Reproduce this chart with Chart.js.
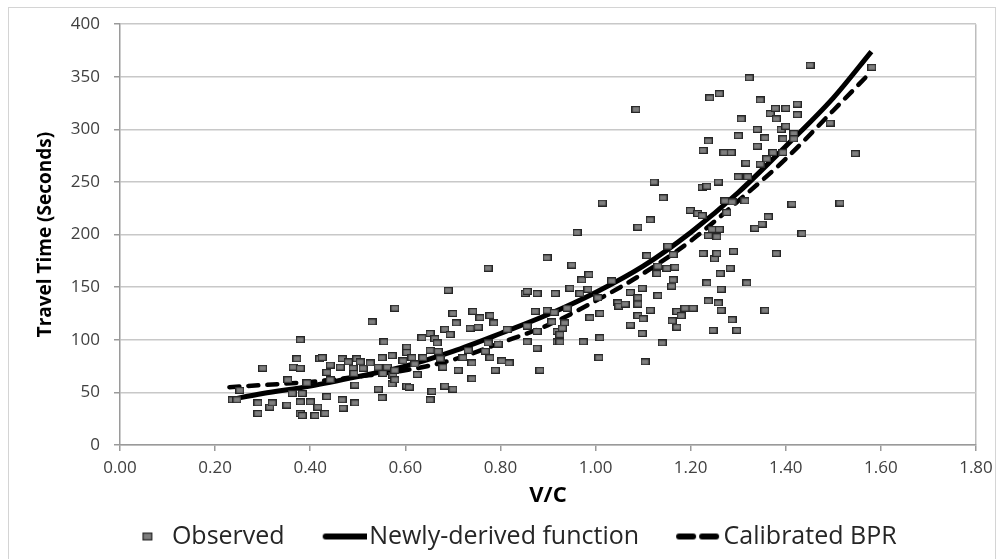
<!DOCTYPE html>
<html>
<head>
<meta charset="utf-8">
<script src="https://cdn.jsdelivr.net/npm/chart.js@4.4.1/dist/chart.umd.min.js"></script>
<style>
  html, body { margin: 0; padding: 0; background: #fff; }
  #wrap { position: relative; width: 1000px; height: 559px; }
  #frame { position: absolute; left: 8px; top: 7px; width: 986px; height: 560px; border: 1px solid #d4d4d4; pointer-events: none; }
</style>
</head>
<body>
<div id="wrap">
  <canvas id="travelChart" width="1000" height="559"></canvas>
  <div id="frame"></div>
</div>
<script>
// observed V/C vs travel time (seconds)
const observedLow = [
  [0.236,43],[0.246,43],[0.252,52],[0.29,40],[0.29,30],[0.30,73],[0.315,36],[0.32,40],
  [0.351,38],[0.353,62],[0.362,49],[0.364,74],[0.372,82],[0.379,73],[0.379,100],[0.379,41],
  [0.379,30],[0.383,49],[0.383,28],[0.393,59],[0.40,41],[0.41,28],[0.416,36],[0.42,82],
  [0.425,83],[0.431,30],[0.435,69],[0.435,46],[0.442,76],[0.442,62],[0.463,74],[0.467,82],
  [0.467,43],[0.469,35],[0.48,79],[0.49,73],[0.492,68],[0.494,57],[0.494,40],[0.498,82],
  [0.505,79],[0.511,73],[0.526,78],[0.53,117],[0.543,74],[0.543,53],[0.551,83],[0.551,45],
  [0.553,68],[0.555,98],[0.562,74],[0.572,85],[0.572,58],[0.574,66],[0.578,130],[0.578,71],
  [0.578,62]
];
const observedMid = [
  [0.595,80],[0.603,93],[0.603,88],[0.603,56],[0.608,55],[0.614,83],[0.62,77],[0.625,67],
  [0.635,102],[0.637,83],[0.652,106],[0.652,90],[0.652,43],[0.656,51],[0.662,101],[0.667,97],
  [0.669,89],[0.673,82],[0.679,74],[0.683,110],[0.683,56],[0.69,147],[0.694,105],[0.70,125],
  [0.70,53],[0.707,116],[0.711,71],[0.721,83],[0.732,90],[0.736,111],[0.74,78],[0.74,63],
  [0.742,127],[0.753,112],[0.757,121],[0.768,89],[0.774,168],[0.774,97],[0.778,123],[0.778,83],
  [0.786,116],[0.789,71],[0.795,96],[0.803,80],[0.814,110],[0.818,78],[0.852,144],[0.856,146],
  [0.856,113],[0.856,98],[0.873,127],[0.877,144],[0.877,108],[0.877,92],[0.883,71],[0.898,178],
  [0.898,128],[0.908,117],[0.913,126],[0.915,144],[0.919,108],[0.919,98]
];
const observedHigh = [
  [0.94,130],[0.935,116],[0.93,111],[0.925,105],[0.925,98],[0.946,149],[0.95,171],[0.961,202],
  [0.967,144],[0.971,157],[0.974,98],[0.984,148],[0.986,162],[0.988,121],[1.005,140],[1.007,83],
  [1.009,125],[1.009,102],[1.014,230],[1.034,156],[1.047,135],[1.049,132],[1.062,134],[1.073,145],
  [1.073,114],[1.085,319],[1.089,207],[1.089,140],[1.089,134],[1.089,123],[1.098,149],[1.098,106],
  [1.10,120],[1.104,79],[1.108,180],[1.115,214],[1.115,128],[1.123,250],[1.129,163],[1.131,170],
  [1.131,142],[1.14,97],[1.142,235],[1.15,168],[1.152,189],[1.16,151],[1.161,118],[1.163,181],
  [1.163,157],[1.167,169],[1.171,127],[1.171,112],[1.18,123],[1.188,130],[1.199,223],[1.205,130],
  [1.215,220]
];
const observedTop = [
  [1.224,245],[1.224,218],[1.226,280],[1.226,182],[1.234,246],[1.234,154],[1.237,289],[1.237,199],
  [1.237,137],[1.24,330],[1.245,205],[1.247,109],[1.25,177],[1.255,198],[1.255,182],[1.258,250],
  [1.258,135],[1.26,334],[1.26,205],[1.262,163],[1.264,148],[1.264,128],[1.27,278],[1.272,232],
  [1.276,221],[1.283,168],[1.285,278],[1.287,231],[1.287,119],[1.29,184],[1.297,109],[1.30,294],
  [1.30,255],[1.306,310],[1.314,232],[1.316,268],[1.318,154],[1.32,255],[1.323,349],[1.335,206],
  [1.34,300],[1.34,284],[1.346,328],[1.346,267],[1.35,210],[1.356,292],[1.356,128],[1.36,272],
  [1.363,217],[1.367,315],[1.373,278],[1.378,320],[1.38,310],[1.38,182],[1.39,300],[1.394,291],
  [1.394,278],[1.40,320],[1.40,303],[1.413,229],[1.417,296],[1.417,291],[1.424,324],[1.424,314],
  [1.434,201],[1.451,361],[1.493,306],[1.514,230],[1.546,277],[1.581,359]
];

// the two fitted curves, sampled off the figure
const curveVC = [0.23, 0.30, 0.40, 0.50, 0.60, 0.70, 0.80, 0.90, 1.00, 1.10, 1.20, 1.30, 1.40, 1.50, 1.58];
const newlyDerived = [43, 49, 56, 65, 75, 89, 106, 124, 145, 170, 202, 240, 284, 330, 374];
const calibratedBPR = [55, 57, 60, 65, 71, 81, 97, 114, 137, 163, 194, 232, 272, 318, 355];

const seriesNames = ['Observed', 'Newly-derived function', 'Calibrated BPR'];
const xTicks = { min: 0, max: 1.8, step: 0.2 };
const yTicks = { min: 0, max: 400, step: 50 };

const observed = [...observedLow, ...observedMid, ...observedHigh, ...observedTop]
  .map(([x, y]) => ({ x, y }));
const toPoints = (xs, ys) => xs.map((x, i) => ({ x, y: ys[i] }));

function makeCanvas(w, h, draw) {
  const c = document.createElement('canvas');
  c.width = w;
  c.height = h;
  draw(c.getContext('2d'));
  return c;
}

const squareMarker = makeCanvas(9, 7, g => {
  g.fillStyle = '#7f7f7f';
  g.fillRect(0, 0, 9, 7);
  g.strokeStyle = '#262626';
  g.lineWidth = 1.2;
  g.strokeRect(0.6, 0.6, 7.8, 5.8);
});

// legend icons: box is 70 wide, icon canvas is 90 wide centred on it,
// so the drawn part sits at the right, next to the text
const legendIcons = [
  makeCanvas(90, 10, g => {
    g.fillStyle = '#7f7f7f';
    g.fillRect(63, 1, 10, 8);
    g.strokeStyle = '#262626';
    g.lineWidth = 1.2;
    g.strokeRect(63.6, 1.6, 8.8, 6.8);
  }),
  makeCanvas(90, 10, g => {
    g.strokeStyle = '#000';
    g.lineWidth = 6;
    g.lineCap = 'round';
    g.beginPath();
    g.moveTo(49, 5);
    g.lineTo(90, 5);
    g.stroke();
  }),
  makeCanvas(90, 10, g => {
    g.strokeStyle = '#000';
    g.lineWidth = 6;
    g.lineCap = 'round';
    g.setLineDash([14, 9]);
    g.beginPath();
    g.moveTo(48, 5);
    g.lineTo(90, 5);
    g.stroke();
  }),
];

const ctx = document.getElementById('travelChart').getContext('2d');

new Chart(ctx, {
  type: 'scatter',
  data: {
    datasets: [
      {
        label: seriesNames[0],
        data: observed,
        pointStyle: squareMarker,
        pointRadius: 5,
        backgroundColor: '#7f7f7f',
        borderColor: '#262626',
      },
      {
        type: 'line',
        label: seriesNames[1],
        data: toPoints(curveVC, newlyDerived),
        borderColor: '#000',
        borderWidth: 5,
        pointRadius: 0,
        cubicInterpolationMode: 'monotone',
        fill: false,
      },
      {
        type: 'line',
        label: seriesNames[2],
        data: toPoints(curveVC, calibratedBPR),
        borderColor: '#000',
        borderWidth: 4.5,
        borderDash: [10, 9],
        borderCapStyle: 'round',
        pointRadius: 0,
        cubicInterpolationMode: 'monotone',
        fill: false,
      },
    ],
  },
  options: {
    responsive: false,
    animation: false,
    layout: { padding: { left: 10, right: 24, top: 23, bottom: 0 } },
    scales: {
      x: {
        type: 'linear',
        min: xTicks.min,
        max: xTicks.max,
        afterFit: s => { s.height = 77; },
        border: { color: '#9a9a9a', width: 1.5 },
        grid: {
          drawOnChartArea: true,
          color: c => (c.index === c.scale.ticks.length - 1 ? '#bdbdbd' : 'rgba(0,0,0,0)'),
          lineWidth: 1.5,
          tickColor: '#9a9a9a',
          tickLength: 6,
        },
        ticks: {
          stepSize: xTicks.step,
          color: '#404040',
          padding: 7,
          maxRotation: 0,
          font: { family: 'Open Sans', size: 17 },
          callback: v => Number(v).toFixed(2),
        },
        title: {
          display: true,
          text: 'V/C',
          color: '#000',
          padding: { top: 0, bottom: 13 },
          font: { family: 'Open Sans', size: 22, weight: 'bold' },
        },
      },
      y: {
        min: yTicks.min,
        max: yTicks.max,
        afterFit: s => { s.width = 110; },
        border: { color: '#9a9a9a', width: 1.5 },
        grid: {
          color: '#c8c8c8',
          lineWidth: 1.5,
          tickColor: '#9a9a9a',
          tickLength: 6,
        },
        ticks: {
          stepSize: yTicks.step,
          color: '#404040',
          padding: 14,
          font: { family: 'Open Sans', size: 17 },
        },
        title: {
          display: true,
          text: 'Travel Time (Seconds)',
          color: '#000',
          padding: { top: 24, bottom: 0 },
          font: { family: 'Open Sans', size: 19, weight: 'bold' },
        },
      },
    },
    plugins: {
      tooltip: { enabled: false },
      legend: {
        position: 'bottom',
        labels: {
          usePointStyle: true,
          pointStyleWidth: 70,
          padding: 2,
          color: '#262626',
          font: { family: 'Open Sans', size: 25 },
          generateLabels: chart =>
            Chart.defaults.plugins.legend.labels.generateLabels(chart).map((item, i) => ({
              ...item,
              pointStyle: legendIcons[i],
            })),
        },
      },
    },
  },
});
</script>
</body>
</html>
